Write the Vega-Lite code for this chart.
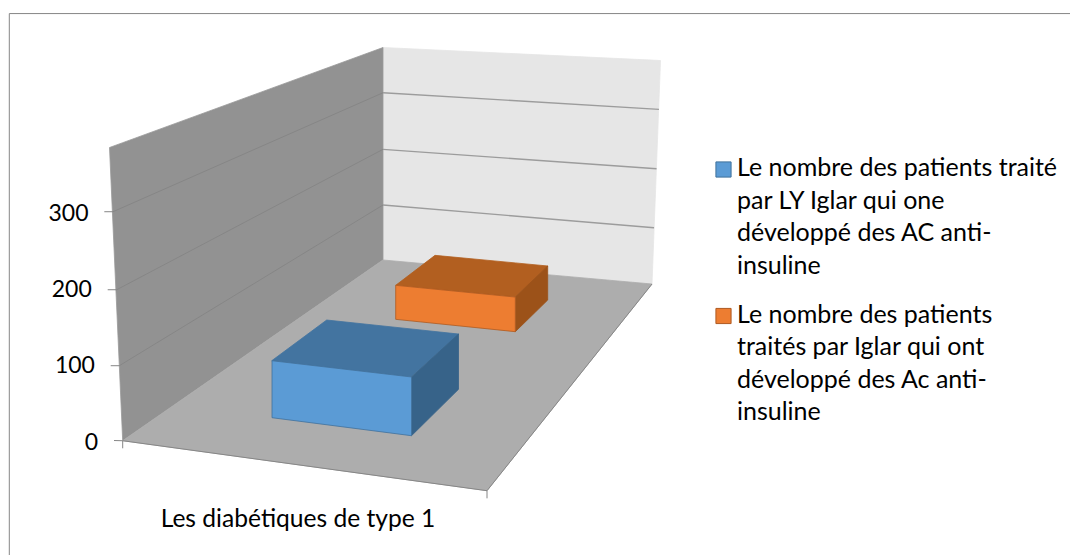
{
"$schema":"https://vega.github.io/schema/vega-lite/v6.json",
"width":1070,"height":555,"padding":0,
"autosize":"none",
"background":"white",
"config":{"view":{"stroke":null},"font":"Lato"},
"datasets":{
"surfaces":[
{"surface":"back wall","x":383,"top":515.3,"bottom":236.7},
{"surface":"back wall","x":652,"top":498.8,"bottom":205.2},
{"surface":"back wall","x":660.5,"top":498.2,"bottom":498.2},
{"surface":"side wall","x":109.5,"top":384.2,"bottom":384.2},
{"surface":"side wall","x":122.7,"top":390.5,"bottom":-0.26},
{"surface":"side wall","x":383,"top":515.3,"bottom":236.7},
{"surface":"floor","x":122.7,"top":-0.26,"bottom":-0.26},
{"surface":"floor","x":383,"top":236.7,"bottom":-47.1},
{"surface":"floor","x":487,"top":224.5,"bottom":-65.8},
{"surface":"floor","x":652,"top":205.2,"bottom":205.2},
{"surface":"orange top","x":395.7,"top":203.5,"bottom":203.5},
{"surface":"orange top","x":435,"top":242.8,"bottom":198.5},
{"surface":"orange top","x":515.3,"top":232.9,"bottom":188.1},
{"surface":"orange top","x":548,"top":228.8,"bottom":228.8},
{"surface":"orange side","x":515.3,"top":188.1,"bottom":142.7},
{"surface":"orange side","x":547.7,"top":228.8,"bottom":184.2},
{"surface":"blue top","x":271.7,"top":104.6,"bottom":104.6},
{"surface":"blue top","x":326.7,"top":158,"bottom":96.2},
{"surface":"blue top","x":411,"top":146.3,"bottom":83.3},
{"surface":"blue top","x":458.7,"top":139.6,"bottom":139.6},
{"surface":"blue side","x":411.5,"top":83.3,"bottom":6.3},
{"surface":"blue side","x":458.5,"top":139.6,"bottom":67.1},
{"surface":"Le nombre des patients traité par LY Iglar qui one développé des AC anti-insuline","x":272,"top":104.6,"bottom":29.9},
{"surface":"Le nombre des patients traité par LY Iglar qui one développé des AC anti-insuline","x":411.5,"top":83.3,"bottom":6.3},
{"surface":"Le nombre des patients traités par Iglar qui ont développé des Ac anti-insuline","x":395.7,"top":203.5,"bottom":158.9},
{"surface":"Le nombre des patients traités par Iglar qui ont développé des Ac anti-insuline","x":515.3,"top":188.1,"bottom":142.7}
],
"lines":[
{"line":"frame","x":9.3,"y":-150.1},{"line":"frame","x":9.3,"y":559.8},{"line":"frame","x":1070,"y":559.8},
{"line":"back 300","x":383,"y":456},{"line":"back 300","x":659,"y":434.2},
{"line":"back 200","x":383,"y":381.8},{"line":"back 200","x":656.5,"y":356.4},
{"line":"back 100","x":383,"y":308.8},{"line":"back 100","x":654,"y":279},
{"line":"side 300","x":104.3,"y":300},{"line":"side 300","x":113,"y":300},{"line":"side 300","x":383,"y":456},
{"line":"side 200","x":107.7,"y":197.7},{"line":"side 200","x":116.7,"y":197.7},{"line":"side 200","x":383,"y":381.8},
{"line":"side 100","x":110.7,"y":98.1},{"line":"side 100","x":119.3,"y":98.1},{"line":"side 100","x":383,"y":308.8},
{"line":"tick 0","x":114,"y":0},{"line":"tick 0","x":122.7,"y":-0.26},{"line":"tick 0","x":122.7,"y":-10.2},
{"line":"edge","x":122.7,"y":-0.26},{"line":"edge","x":487,"y":-65.8},{"line":"edge","x":652,"y":205.2},
{"line":"tick end","x":487,"y":-65.8},{"line":"tick end","x":487,"y":-75.8}
]
},
"encoding":{
"x":{"field":"x","type":"quantitative","scale":{"domain":[0,1070],"nice":false,"zero":false},
"axis":{"title":"Les diabétiques de type 1","labels":false,"ticks":false,"domain":false,"grid":false,"titleFontSize":24.6,"titleFontWeight":"normal","titleColor":"#000","titleX":297.5,"titleY":-36,"titleAlign":"center","titleBaseline":"middle","titleFont":"Lato"}}
},
"layer":[
{"data":{"name":"surfaces"},"mark":{"type":"area","strokeWidth":0.8,"line":false,"orient":"vertical"},
"encoding":{
"y":{"field":"top","type":"quantitative","scale":{"domain":[-150.1,577.6],"nice":false,"zero":false},
"axis":{"title":null,"values":[0,100,200,300],"ticks":false,"domain":false,"grid":false,"offset":-88,"labelPadding":0,"labelFontSize":23,"labelColor":"#000","labelFont":"Lato",
"encoding":{"labels":{"dx":{"value":{"expr":"(300-datum.value)*0.0323"}},"dy":{"value":1.5}}}}},
"y2":{"field":"bottom"},
"fill":{"field":"surface","type":"nominal","sort":null,
"scale":{"domain":["back wall","side wall","floor","orange top","orange side","blue top","blue side","Le nombre des patients traité par LY Iglar qui one développé des AC anti-insuline","Le nombre des patients traités par Iglar qui ont développé des Ac anti-insuline"],
"range":["#e6e6e6","#929292","#adadad","#b25f20","#9c5219","#4374a0","#376389","#5b9bd5","#ed7d31"]},
"legend":{"title":null,"orient":"none","legendX":711,"legendY":157,"padding":0,"symbolType":"square","symbolSize":230,"symbolStrokeWidth":1,"rowPadding":23.5,"labelOffset":1,"labelFontSize":25,"labelColor":"#000","labelFont":"Lato","labelLimit":400,"labelBaseline":"top",
"values":["Le nombre des patients traité par LY Iglar qui one développé des AC anti-insuline","Le nombre des patients traités par Iglar qui ont développé des Ac anti-insuline"],
"labelExpr":"indexof(datum.label,'LY')>=0 ? ['Le nombre des patients traité','par LY Iglar qui one','développé des AC anti-','insuline'] : ['Le nombre des patients','traités par Iglar qui ont','développé des Ac anti-','insuline']",
"encoding":{"labels":{"lineHeight":{"value":32.5},"dy":{"value":-13.5}}}}},
"stroke":{"field":"surface","type":"nominal","sort":null,
"scale":{"domain":["back wall","side wall","floor","orange top","orange side","blue top","blue side","Le nombre des patients traité par LY Iglar qui one développé des AC anti-insuline","Le nombre des patients traités par Iglar qui ont développé des Ac anti-insuline"],
"range":["#e6e6e6","#999999","#adadad","#b25f20","#9c5219","#4374a0","#376389","#41719c","#ae5a21"]},
"legend":{"title":null,"orient":"none","legendX":711,"legendY":157,"padding":0,"symbolType":"square","symbolSize":230,"symbolStrokeWidth":1,"rowPadding":23.5,"labelOffset":1,"labelFontSize":25,"labelColor":"#000","labelFont":"Lato","labelLimit":400,"labelBaseline":"top",
"values":["Le nombre des patients traité par LY Iglar qui one développé des AC anti-insuline","Le nombre des patients traités par Iglar qui ont développé des Ac anti-insuline"],
"labelExpr":"indexof(datum.label,'LY')>=0 ? ['Le nombre des patients traité','par LY Iglar qui one','développé des AC anti-','insuline'] : ['Le nombre des patients','traités par Iglar qui ont','développé des Ac anti-','insuline']",
"encoding":{"labels":{"lineHeight":{"value":32.5},"dy":{"value":-13.5}}}}}
}},
{"data":{"name":"lines"},"transform":[{"filter":"indexof(datum.line,'back')==0"}],"mark":{"type":"line","stroke":"#9c9c9c","strokeWidth":1.4},
"encoding":{"y":{"field":"y","type":"quantitative"},"detail":{"field":"line"},"order":{"field":"x"}}},
{"data":{"name":"lines"},"transform":[{"filter":"indexof(datum.line,'back')!=0"}],"mark":{"type":"line","stroke":"#868686","strokeWidth":1},
"encoding":{"y":{"field":"y","type":"quantitative"},"detail":{"field":"line"}}}
]
}
